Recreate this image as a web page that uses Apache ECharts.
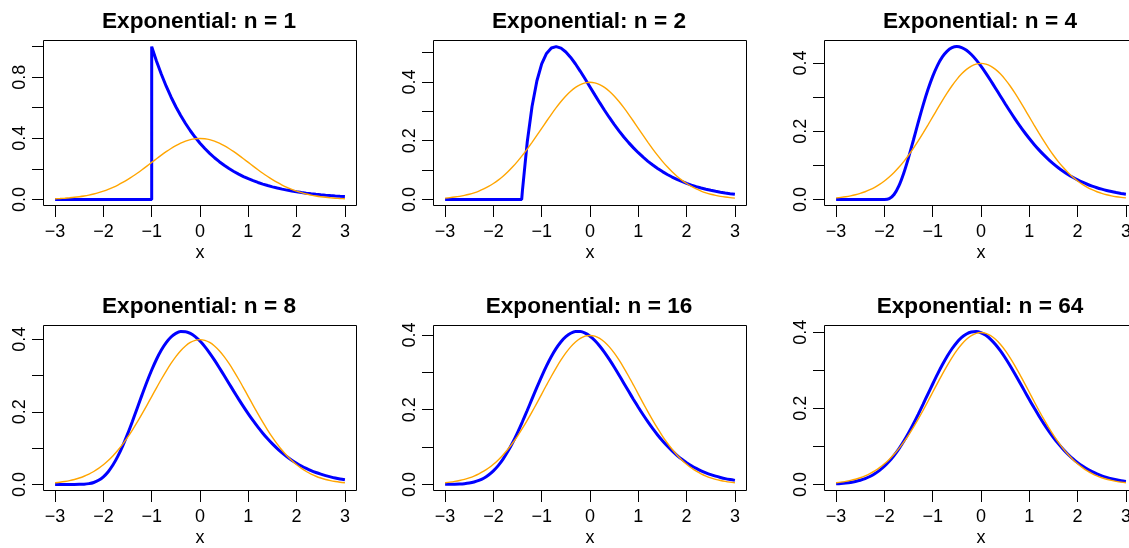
<!DOCTYPE html>
<html><head><meta charset="utf-8">
<script src="https://cdn.jsdelivr.net/npm/echarts@6/dist/echarts.min.js"></script>
<style>html,body{margin:0;padding:0;background:#fff}#c{width:1129px;height:548px}</style>
</head><body><div id="c"></div>
<script>
// ---------------- data ----------------
const xGrid = [-3.0,-2.9,-2.8,-2.7,-2.6,-2.5,-2.4,-2.3,-2.2,-2.1,-2.0,-1.9,-1.8,-1.7,-1.6,-1.5,-1.4,-1.3,-1.2,-1.1,
  -1.0,-0.9,-0.8,-0.7,-0.6,-0.5,-0.4,-0.3,-0.2,-0.1,0.0,0.1,0.2,0.3,0.4,0.5,0.6,0.7,0.8,0.9,
  1.0,1.1,1.2,1.3,1.4,1.5,1.6,1.7,1.8,1.9,2.0,2.1,2.2,2.3,2.4,2.5,2.6,2.7,2.8,2.9,3.0];

// orange curve (same in every panel)
const normalDensity = [0.00443,0.00595,0.00792,0.01042,0.01358,0.01753,0.02239,0.02833,0.03547,0.04398,
  0.05399,0.06562,0.07895,0.09405,0.11092,0.12952,0.14973,0.17137,0.19419,0.21785,
  0.24197,0.26609,0.28969,0.31225,0.33322,0.35207,0.36827,0.38139,0.39104,0.39695,
  0.39894,0.39695,0.39104,0.38139,0.36827,0.35207,0.33322,0.31225,0.28969,0.26609,
  0.24197,0.21785,0.19419,0.17137,0.14973,0.12952,0.11092,0.09405,0.07895,0.06562,
  0.05399,0.04398,0.03547,0.02833,0.02239,0.01753,0.01358,0.01042,0.00792,0.00595,0.00443];

// blue curves
const expN1 = [0,0,0,0,0,0,0,0,0,0,0,0,0,0,0,0,0,0,0,0,
  1.0,0.9048,0.8187,0.7408,0.6703,0.6065,0.5488,0.4966,0.4493,0.4066,
  0.3679,0.3329,0.3012,0.2725,0.2466,0.2231,0.2019,0.1827,0.1653,0.1496,
  0.1353,0.1225,0.1108,0.1003,0.0907,0.0821,0.0743,0.0672,0.0608,0.0550,
  0.0498,0.0450,0.0408,0.0369,0.0334,0.0302,0.0273,0.0247,0.0224,0.0202,0.0183];
const jumpN1 = -1.0;    // vertical rise of the n = 1 curve
const startN2 = -1.414; // where the n = 2 curve leaves zero

const expN2 = [0,0,0,0,0,0,0,0,0,0,0,0,0,0,0,0,
  0.0279,0.1944,0.3165,0.4030,0.4612,
  0.4970,0.5154,0.5202,0.5149,0.5019,0.4833,0.4610,0.4361,0.4098,0.3828,
  0.3558,0.3293,0.3036,0.2789,0.2555,0.2334,0.2126,0.1933,0.1754,0.1589,
  0.1436,0.1296,0.1169,0.1052,0.0946,0.0849,0.0761,0.0682,0.0611,0.0546,
  0.0488,0.0436,0.0389,0.0347,0.0309,0.0275,0.0245,0.0218,0.0193,0.0172];

const expN4 = [0,0,0,0,0,0,0,0,0,0,0,
  0.0022,0.0143,0.0395,0.0767,0.1226,0.1735,0.2256,0.2757,0.3213,0.3609,
  0.3933,0.4180,0.4351,0.4450,0.4481,0.4452,0.4372,0.4249,0.4092,0.3907,
  0.3703,0.3486,0.3261,0.3034,0.2807,0.2586,0.2371,0.2165,0.1969,0.1785,
  0.1612,0.1452,0.1304,0.1167,0.1043,0.0929,0.0826,0.0732,0.0648,0.0573,
  0.0505,0.0444,0.0390,0.0342,0.0300,0.0262,0.0229,0.0200,0.0174,0.0151];

const expN8 = [0,0,0,0,0,0.0001,0.0006,0.0021,0.0053,0.0113,
  0.0209,0.0350,0.0539,0.0778,0.1063,0.1385,0.1735,0.2100,0.2466,0.2821,
  0.3151,0.3448,0.3702,0.3907,0.4061,0.4161,0.4209,0.4208,0.4160,0.4072,
  0.3948,0.3795,0.3618,0.3423,0.3215,0.3000,0.2781,0.2563,0.2349,0.2142,
  0.1943,0.1754,0.1576,0.1410,0.1256,0.1115,0.0986,0.0869,0.0763,0.0668,
  0.0583,0.0507,0.0440,0.0380,0.0328,0.0282,0.0242,0.0208,0.0177,0.0151,0.0129];

const expN16 = [0.0001,0.0002,0.0004,0.0009,0.0019,0.0036,0.0063,0.0105,0.0165,0.0250,
  0.0361,0.0503,0.0678,0.0885,0.1122,0.1389,0.1677,0.1979,0.2289,0.2598,
  0.2896,0.3174,0.3426,0.3643,0.3822,0.3957,0.4047,0.4092,0.4092,0.4050,
  0.3969,0.3853,0.3707,0.3537,0.3347,0.3143,0.2930,0.2711,0.2492,0.2276,
  0.2066,0.1864,0.1672,0.1491,0.1323,0.1168,0.1026,0.0897,0.0780,0.0676,
  0.0583,0.0501,0.0428,0.0365,0.0310,0.0262,0.0221,0.0186,0.0155,0.0130,0.0108];

const expN64 = [0.0015,0.0023,0.0035,0.0052,0.0076,0.0108,0.0151,0.0207,0.0279,0.0368,
  0.0476,0.0606,0.0759,0.0934,0.1132,0.1351,0.1589,0.1841,0.2104,0.2371,
  0.2638,0.2897,0.3141,0.3366,0.3564,0.3730,0.3861,0.3953,0.4004,0.4014,
  0.3984,0.3916,0.3812,0.3675,0.3512,0.3326,0.3122,0.2906,0.2683,0.2457,
  0.2232,0.2011,0.1799,0.1598,0.1408,0.1232,0.1071,0.0924,0.0793,0.0675,
  0.0572,0.0481,0.0402,0.0334,0.0276,0.0226,0.0185,0.0150,0.0121,0.0097,0.0078];

const panelTitles = ['Exponential: n = 1','Exponential: n = 2','Exponential: n = 4',
                     'Exponential: n = 8','Exponential: n = 16','Exponential: n = 64'];
const xTickValues = [-3,-2,-1,0,1,2,3];
const xTickLabels = ['\u22123','\u22122','\u22121','0','1','2','3'];
const yTickSteps = [0.2,0.1,0.1,0.1,0.1,0.1];
const yTickTops  = [1.0,0.5,0.4,0.4,0.4,0.4];
const yLabelValues = [[0,0.4,0.8],[0,0.2,0.4],[0,0.2,0.4],[0,0.2,0.4],[0,0.2,0.4],[0,0.2,0.4]];
const yLabelTexts  = [['0.0','0.4','0.8'],['0.0','0.2','0.4'],['0.0','0.2','0.4'],
                      ['0.0','0.2','0.4'],['0.0','0.2','0.4'],['0.0','0.2','0.4']];
const xAxisName = 'x';

// ---------------- layout ----------------
const blueCurves = [expN1, expN2, expN4, expN8, expN16, expN64];
const FONT = '"Liberation Sans", Arial, Helvetica, sans-serif';
const BOX_LEFTS = [43.5, 433.5, 824.5];
const BOX_TOPS = [40.5, 325.5];
const BOX_W = 313, BOX_H = 165;
const XMIN = -3, XMAX = 3, EXT = 0.04;
const xLo = XMIN - EXT*(XMAX-XMIN), xHi = XMAX + EXT*(XMAX-XMIN);

const grid = [], xAxis = [], yAxis = [], series = [], graphic = [];
blueCurves.forEach((ys, p) => {
  const col = p % 3, row = Math.floor(p / 3);
  const L = BOX_LEFTS[col], T = BOX_TOPS[row];
  const M = Math.max(...ys);
  const yLo = -EXT*M, yHi = M + EXT*M;
  const yPix = v => T + BOX_H*(yHi - v)/(yHi - yLo);
  const xPix = v => L + BOX_W*(v - xLo)/(xHi - xLo);
  const gData = grid.length;
  grid.push({left:L, top:T, width:BOX_W, height:BOX_H, show:true, borderColor:'#000', borderWidth:1,
    backgroundColor:'rgba(0,0,0,0)', outerBoundsMode:'none', containLabel:false});
  xAxis.push({gridIndex:gData, type:'value', min:xLo, max:xHi, show:false, axisLine:{onZero:false}});
  yAxis.push({gridIndex:gData, type:'value', min:yLo, max:yHi, show:false, axisLine:{onZero:false}});
  // tick grid
  const gT = grid.length;
  const top = yTickTops[p];
  const tL = xPix(XMIN), tR = xPix(XMAX), tTop = yPix(top), tBot = yPix(0);
  grid.push({left:tL, top:tTop, width:tR-tL, height:tBot-tTop, show:false, outerBoundsMode:'none', containLabel:false});
  xAxis.push({gridIndex:gT, type:'value', min:XMIN, max:XMAX, interval:1, position:'bottom',
    offset:(T+BOX_H)-tBot,
    axisLine:{show:false, onZero:false}, splitLine:{show:false},
    axisTick:{show:true, inside:false, length:11.5, lineStyle:{color:'#000', width:1}},
    axisLabel:{show:true, margin:18, fontSize:18, color:'#000', fontFamily:FONT, showMinLabel:true, showMaxLabel:true,
      formatter:v => { const i = xTickValues.indexOf(Math.round(v)); return i>=0 ? xTickLabels[i] : ''; }}
  });
  yAxis.push({gridIndex:gT, type:'value', min:0, max:top, interval:yTickSteps[p], position:'left',
    offset:tL-L,
    axisLine:{show:false, onZero:false}, splitLine:{show:false},
    axisTick:{show:true, inside:false, length:11.5, lineStyle:{color:'#000', width:1}},
    axisLabel:{show:true, rotate:90, margin:14, fontSize:18, color:'#000', fontFamily:FONT, showMinLabel:true, showMaxLabel:true,
      formatter:v => { const i = yLabelValues[p].findIndex(l => Math.abs(l-v)<1e-6); return i>=0 ? yLabelTexts[p][i] : ''; }}
  });
  // blue series
  let blueData = xGrid.map((x,i) => [x, ys[i]]);
  if (p === 0) {
    const k = xGrid.findIndex(x => Math.abs(x - jumpN1) < 1e-9);
    blueData.splice(k, 0, [jumpN1, 0]);
  }
  if (p === 1) {
    const k = xGrid.findIndex(x => x > startN2);
    blueData.splice(k, 0, [startN2, 0]);
  }
  series.push({type:'line', xAxisIndex:gData, yAxisIndex:gData, data:blueData, symbol:'none', showSymbol:false,
    smooth: p < 2 ? false : 0.3, lineStyle:{color:'#0000FF', width:3}, z:2, silent:true});
  series.push({type:'line', xAxisIndex:gData, yAxisIndex:gData, data:xGrid.map((x,i)=>[x, normalDensity[i]]),
    symbol:'none', showSymbol:false, smooth:0.3, lineStyle:{color:'#FFA500', width:1.4}, z:3, silent:true});
  // title and x label
  const cx = L + BOX_W/2;
  graphic.push({type:'text', x:cx - 1, y:T - 18.5, style:{text:panelTitles[p], fill:'#000',
    font:'bold 22.6px ' + FONT, align:'center', verticalAlign:'middle'}});
  graphic.push({type:'text', x:cx, y:T + 212.7, style:{text:xAxisName, fill:'#000',
    font:'18px ' + FONT, align:'center', verticalAlign:'middle'}});
});

const chart = echarts.init(document.getElementById('c'), null, {renderer:'canvas'});
chart.setOption({animation:false, backgroundColor:'#fff', grid, xAxis, yAxis, series, graphic});
</script>
</body></html>
